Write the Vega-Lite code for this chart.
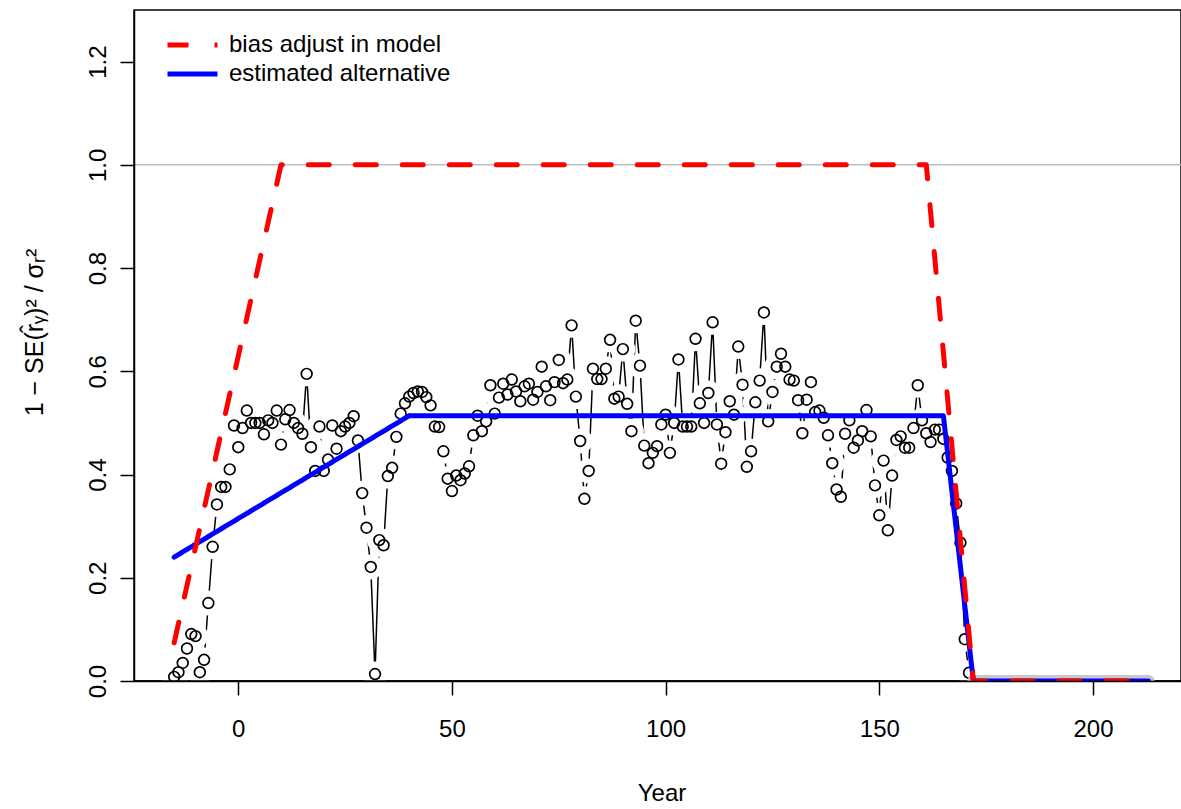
{
  "$schema": "https://vega.github.io/schema/vega-lite/v6.json",
  "autosize": "none",
  "width": 1047,
  "height": 671,
  "padding": {"left": 134, "top": 10, "right": 0, "bottom": 128},
  "background": "white",
  "config": {
    "font": "Liberation Sans",
    "view": {"stroke": "black", "strokeWidth": 1.5},
    "axis": {
      "grid": false,
      "domain": true,
      "domainColor": "black",
      "domainWidth": 1.5,
      "tickColor": "black",
      "tickWidth": 1.5,
      "tickSize": 14,
      "labelFont": "Liberation Sans",
      "labelFontSize": 24,
      "labelColor": "black",
      "titleFont": "Liberation Sans",
      "titleFontSize": 24,
      "titleFontWeight": "normal",
      "titleColor": "black"
    },
    "legend": {
      "labelFont": "Liberation Sans",
      "labelFontSize": 24,
      "labelColor": "black",
      "labelLimit": 0
    }
  },
  "datasets": {
    "pts": [
      {"year": -15, "value": 0.008}, {"year": -14, "value": 0.017}, {"year": -13, "value": 0.035}, {"year": -12, "value": 0.063},
      {"year": -11, "value": 0.091}, {"year": -10, "value": 0.087}, {"year": -9, "value": 0.017}, {"year": -8, "value": 0.041},
      {"year": -7, "value": 0.151}, {"year": -6, "value": 0.26}, {"year": -5, "value": 0.342}, {"year": -4, "value": 0.376},
      {"year": -3, "value": 0.376}, {"year": -2, "value": 0.41}, {"year": -1, "value": 0.495}, {"year": 0, "value": 0.453},
      {"year": 1, "value": 0.49}, {"year": 2, "value": 0.524}, {"year": 3, "value": 0.5}, {"year": 4, "value": 0.5},
      {"year": 5, "value": 0.5}, {"year": 6, "value": 0.478}, {"year": 7, "value": 0.505}, {"year": 8, "value": 0.5},
      {"year": 9, "value": 0.524}, {"year": 10, "value": 0.458}, {"year": 11, "value": 0.507}, {"year": 12, "value": 0.525},
      {"year": 13, "value": 0.5}, {"year": 14, "value": 0.49}, {"year": 15, "value": 0.479}, {"year": 16, "value": 0.595},
      {"year": 17, "value": 0.453}, {"year": 18, "value": 0.407}, {"year": 19, "value": 0.493}, {"year": 20, "value": 0.407},
      {"year": 21, "value": 0.429}, {"year": 22, "value": 0.495}, {"year": 23, "value": 0.45}, {"year": 24, "value": 0.484},
      {"year": 25, "value": 0.493}, {"year": 26, "value": 0.5}, {"year": 27, "value": 0.513}, {"year": 28, "value": 0.466},
      {"year": 29, "value": 0.364}, {"year": 30, "value": 0.297}, {"year": 31, "value": 0.221}, {"year": 32, "value": 0.0135},
      {"year": 33, "value": 0.273}, {"year": 34, "value": 0.263}, {"year": 35, "value": 0.397}, {"year": 36, "value": 0.413},
      {"year": 37, "value": 0.473}, {"year": 38, "value": 0.518}, {"year": 39, "value": 0.538}, {"year": 40, "value": 0.551},
      {"year": 41, "value": 0.558}, {"year": 42, "value": 0.561}, {"year": 43, "value": 0.56}, {"year": 44, "value": 0.55},
      {"year": 45, "value": 0.534}, {"year": 46, "value": 0.493}, {"year": 47, "value": 0.492}, {"year": 48, "value": 0.445},
      {"year": 49, "value": 0.392}, {"year": 50, "value": 0.368}, {"year": 51, "value": 0.398}, {"year": 52, "value": 0.389},
      {"year": 53, "value": 0.402}, {"year": 54, "value": 0.416}, {"year": 55, "value": 0.476}, {"year": 56, "value": 0.514},
      {"year": 57, "value": 0.484}, {"year": 58, "value": 0.503}, {"year": 59, "value": 0.573}, {"year": 60, "value": 0.518},
      {"year": 61, "value": 0.549}, {"year": 62, "value": 0.576}, {"year": 63, "value": 0.555}, {"year": 64, "value": 0.584},
      {"year": 65, "value": 0.561}, {"year": 66, "value": 0.542}, {"year": 67, "value": 0.571}, {"year": 68, "value": 0.576},
      {"year": 69, "value": 0.545}, {"year": 70, "value": 0.56}, {"year": 71, "value": 0.609}, {"year": 72, "value": 0.571},
      {"year": 73, "value": 0.544}, {"year": 74, "value": 0.579}, {"year": 75, "value": 0.622}, {"year": 76, "value": 0.577},
      {"year": 77, "value": 0.584}, {"year": 78, "value": 0.689}, {"year": 79, "value": 0.551}, {"year": 80, "value": 0.465},
      {"year": 81, "value": 0.353}, {"year": 82, "value": 0.407}, {"year": 83, "value": 0.605}, {"year": 84, "value": 0.585},
      {"year": 85, "value": 0.585}, {"year": 86, "value": 0.605}, {"year": 87, "value": 0.661}, {"year": 88, "value": 0.547},
      {"year": 89, "value": 0.551}, {"year": 90, "value": 0.643}, {"year": 91, "value": 0.537}, {"year": 92, "value": 0.484},
      {"year": 93, "value": 0.698}, {"year": 94, "value": 0.611}, {"year": 95, "value": 0.456}, {"year": 96, "value": 0.422},
      {"year": 97, "value": 0.442}, {"year": 98, "value": 0.455}, {"year": 99, "value": 0.497}, {"year": 100, "value": 0.516},
      {"year": 101, "value": 0.442}, {"year": 102, "value": 0.5}, {"year": 103, "value": 0.623}, {"year": 104, "value": 0.493},
      {"year": 105, "value": 0.493}, {"year": 106, "value": 0.493}, {"year": 107, "value": 0.663}, {"year": 108, "value": 0.538},
      {"year": 109, "value": 0.5}, {"year": 110, "value": 0.558}, {"year": 111, "value": 0.695}, {"year": 112, "value": 0.497},
      {"year": 113, "value": 0.421}, {"year": 114, "value": 0.482}, {"year": 115, "value": 0.542}, {"year": 116, "value": 0.516},
      {"year": 117, "value": 0.648}, {"year": 118, "value": 0.574}, {"year": 119, "value": 0.415}, {"year": 120, "value": 0.445},
      {"year": 121, "value": 0.54}, {"year": 122, "value": 0.582}, {"year": 123, "value": 0.714}, {"year": 124, "value": 0.503},
      {"year": 125, "value": 0.56}, {"year": 126, "value": 0.609}, {"year": 127, "value": 0.634}, {"year": 128, "value": 0.609},
      {"year": 129, "value": 0.584}, {"year": 130, "value": 0.582}, {"year": 131, "value": 0.544}, {"year": 132, "value": 0.48},
      {"year": 133, "value": 0.545}, {"year": 134, "value": 0.579}, {"year": 135, "value": 0.521}, {"year": 136, "value": 0.524},
      {"year": 137, "value": 0.51}, {"year": 138, "value": 0.476}, {"year": 139, "value": 0.422}, {"year": 140, "value": 0.371},
      {"year": 141, "value": 0.357}, {"year": 142, "value": 0.479}, {"year": 143, "value": 0.505}, {"year": 144, "value": 0.452},
      {"year": 145, "value": 0.466}, {"year": 146, "value": 0.484}, {"year": 147, "value": 0.525}, {"year": 148, "value": 0.474},
      {"year": 149, "value": 0.379}, {"year": 150, "value": 0.321}, {"year": 151, "value": 0.427}, {"year": 152, "value": 0.292},
      {"year": 153, "value": 0.398}, {"year": 154, "value": 0.467}, {"year": 155, "value": 0.474}, {"year": 156, "value": 0.452},
      {"year": 157, "value": 0.452}, {"year": 158, "value": 0.49}, {"year": 159, "value": 0.573}, {"year": 160, "value": 0.505},
      {"year": 161, "value": 0.48}, {"year": 162, "value": 0.463}, {"year": 163, "value": 0.487}, {"year": 164, "value": 0.487},
      {"year": 165, "value": 0.469}, {"year": 166, "value": 0.433}, {"year": 167, "value": 0.407}, {"year": 168, "value": 0.344},
      {"year": 169, "value": 0.268}, {"year": 170, "value": 0.081}, {"year": 171, "value": 0.016}
    ],
    "lines": [
      {"series": "bias adjust in model", "year": -15, "value": 0.074},
      {"series": "bias adjust in model", "year": 10, "value": 1.0},
      {"series": "bias adjust in model", "year": 161, "value": 1.0},
      {"series": "bias adjust in model", "year": 172, "value": 0.0},
      {"series": "bias adjust in model", "year": 213, "value": 0.0},
      {"series": "estimated alternative", "year": -15, "value": 0.24},
      {"series": "estimated alternative", "year": 40, "value": 0.514},
      {"series": "estimated alternative", "year": 165, "value": 0.514},
      {"series": "estimated alternative", "year": 172, "value": 0.0},
      {"series": "estimated alternative", "year": 213, "value": 0.0}
    ],
    "zero": [{"year": 172, "value": 0}, {"year": 213, "value": 0}],
    "ref": [{"value": 1}],
    "base": [{"value": 0}]
  },
  "layer": [
    {
      "data": {"name": "pts"},
      "mark": {"type": "line", "color": "black", "strokeWidth": 1.5, "clip": true},
      "encoding": {
        "x": {
          "field": "year", "type": "quantitative",
          "scale": {"domain": [-24.4, 220.6], "nice": false, "zero": false},
          "axis": {"values": [0, 50, 100, 150, 200], "title": "Year", "zindex": 2, "labelPadding": 22, "titleX": 527.5, "titleY": 119, "titleBaseline": "alphabetic", "titleAlign": "center", "labelFlush": false}
        },
        "y": {
          "field": "value", "type": "quantitative",
          "scale": {"domain": [0, 1.3], "nice": false, "zero": false},
          "axis": {"values": [0, 0.2, 0.4, 0.6, 0.8, 1.0, 1.2], "format": ".1f", "title": "1 − SE(r̂ᵧ)² / σᵣ²", "zindex": 2, "titleFontSize": 25, "labelAngle": -90, "labelAlign": "center", "labelBaseline": "alphabetic", "labelPadding": 15, "titleAngle": -90, "titleX": -92, "titleY": 322, "titleAlign": "center", "titleBaseline": "alphabetic", "labelFlush": false}
        }
      }
    },
    {
      "data": {"name": "pts"},
      "mark": {"type": "point", "shape": "circle", "filled": true, "fill": "white", "strokeWidth": 0, "size": 620, "opacity": 1, "clip": true},
      "encoding": {
        "x": {"field": "year", "type": "quantitative", "scale": {"domain": [-24.4, 220.6], "nice": false, "zero": false}},
        "y": {"field": "value", "type": "quantitative", "scale": {"domain": [0, 1.3], "nice": false, "zero": false}}
      }
    },
    {
      "data": {"name": "base"},
      "mark": {"type": "rule", "color": "black", "strokeWidth": 1.5},
      "encoding": {
        "y": {"field": "value", "type": "quantitative", "scale": {"domain": [0, 1.3], "nice": false, "zero": false}}
      }
    },
    {
      "data": {"name": "ref"},
      "mark": {"type": "rule", "color": "#bebebe", "strokeWidth": 1.5},
      "encoding": {
        "y": {"field": "value", "type": "quantitative", "scale": {"domain": [0, 1.3], "nice": false, "zero": false}}
      }
    },
    {
      "data": {"name": "pts"},
      "mark": {"type": "point", "shape": "circle", "filled": false, "stroke": "black", "strokeWidth": 1.7, "size": 115, "opacity": 1, "clip": true},
      "encoding": {
        "x": {"field": "year", "type": "quantitative", "scale": {"domain": [-24.4, 220.6], "nice": false, "zero": false}},
        "y": {"field": "value", "type": "quantitative", "scale": {"domain": [0, 1.3], "nice": false, "zero": false}}
      }
    },
    {
      "data": {"name": "zero"},
      "mark": {"type": "line", "color": "#c8c8c8", "strokeWidth": 12, "strokeCap": "round", "clip": true},
      "encoding": {
        "x": {"field": "year", "type": "quantitative", "scale": {"domain": [-24.4, 220.6], "nice": false, "zero": false}},
        "y": {"field": "value", "type": "quantitative", "scale": {"domain": [0, 1.3], "nice": false, "zero": false}}
      }
    },
    {
      "data": {"name": "lines"},
      "transform": [{"filter": "datum.series === 'estimated alternative'"}],
      "mark": {"type": "line", "strokeWidth": 5, "strokeCap": "round", "strokeJoin": "round", "clip": true},
      "encoding": {
        "x": {"field": "year", "type": "quantitative", "scale": {"domain": [-24.4, 220.6], "nice": false, "zero": false}},
        "y": {"field": "value", "type": "quantitative", "scale": {"domain": [0, 1.3], "nice": false, "zero": false}},
        "color": {"field": "series", "type": "nominal", "scale": {"domain": ["bias adjust in model", "estimated alternative"], "range": ["#ff0000", "#0000ff"]}, "legend": {"orient": "none", "legendX": 31, "legendY": 23, "title": null, "symbolType": "stroke", "symbolSize": 2500, "symbolStrokeWidth": 5, "clipHeight": 24, "rowPadding": 5, "labelOffset": 9, "padding": 0, "labelLimit": 0}},
        "strokeDash": {"field": "series", "type": "nominal", "scale": {"domain": ["bias adjust in model", "estimated alternative"], "range": [[21, 26], [1, 0]]}, "legend": {"orient": "none", "legendX": 31, "legendY": 23, "title": null, "symbolType": "stroke", "symbolSize": 2500, "symbolStrokeWidth": 5, "clipHeight": 24, "rowPadding": 5, "labelOffset": 9, "padding": 0, "labelLimit": 0}}
      }
    },
    {
      "data": {"name": "lines"},
      "transform": [{"filter": "datum.series === 'bias adjust in model'"}],
      "mark": {"type": "line", "strokeWidth": 5, "strokeCap": "round", "strokeJoin": "round", "clip": true},
      "encoding": {
        "x": {"field": "year", "type": "quantitative", "scale": {"domain": [-24.4, 220.6], "nice": false, "zero": false}},
        "y": {"field": "value", "type": "quantitative", "scale": {"domain": [0, 1.3], "nice": false, "zero": false}},
        "color": {"field": "series", "type": "nominal", "scale": {"domain": ["bias adjust in model", "estimated alternative"], "range": ["#ff0000", "#0000ff"]}},
        "strokeDash": {"field": "series", "type": "nominal", "scale": {"domain": ["bias adjust in model", "estimated alternative"], "range": [[21, 26], [1, 0]]}}
      }
    }
  ]
}
